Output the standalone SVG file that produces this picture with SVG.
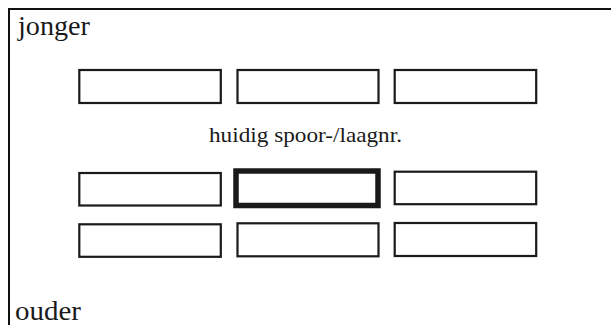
<svg xmlns="http://www.w3.org/2000/svg" width="611" height="325" viewBox="0 0 611 325">
<style>
.box{fill:#fff;stroke:#1a1a1a;stroke-width:2.2}
.cur{fill:#fff;stroke:#1a1a1a;stroke-width:5.5}
.frame{fill:none;stroke:#111;stroke-width:2}
text{font-family:"Liberation Serif","DejaVu Serif",serif;fill:#1a1a1a}
</style>
<rect width="611" height="325" fill="#fff"/>
<g id="frame">
<path class="frame" d="M611,9 H9 V325"/>
</g>
<g id="label-jonger"><text x="18" y="35" font-size="27" textLength="72" lengthAdjust="spacingAndGlyphs">jonger</text></g>
<g id="label-ouder"><text x="15" y="320" font-size="27" textLength="66" lengthAdjust="spacingAndGlyphs">ouder</text></g>
<g id="label-huidig"><text x="209" y="142" font-size="22" textLength="193" lengthAdjust="spacingAndGlyphs">huidig spoor-/laagnr.</text></g>
<g id="box-r1c1"><rect class="box" x="79.3" y="70" width="141.5" height="33"/></g>
<g id="box-r1c2"><rect class="box" x="237.5" y="70" width="141" height="33"/></g>
<g id="box-r1c3"><rect class="box" x="394.7" y="70" width="141.5" height="33"/></g>
<g id="box-r2c1"><rect class="box" x="79.3" y="173" width="141.5" height="32.5"/></g>
<g id="box-r2c2"><rect class="cur" x="236" y="171" width="142" height="34.5"/></g>
<g id="box-r2c3"><rect class="box" x="394.7" y="171.7" width="141.5" height="32.5"/></g>
<g id="box-r3c1"><rect class="box" x="79.3" y="224.3" width="141.5" height="32.5"/></g>
<g id="box-r3c2"><rect class="box" x="237.5" y="223.3" width="141" height="33"/></g>
<g id="box-r3c3"><rect class="box" x="394.7" y="223" width="141.5" height="33"/></g>
</svg>
